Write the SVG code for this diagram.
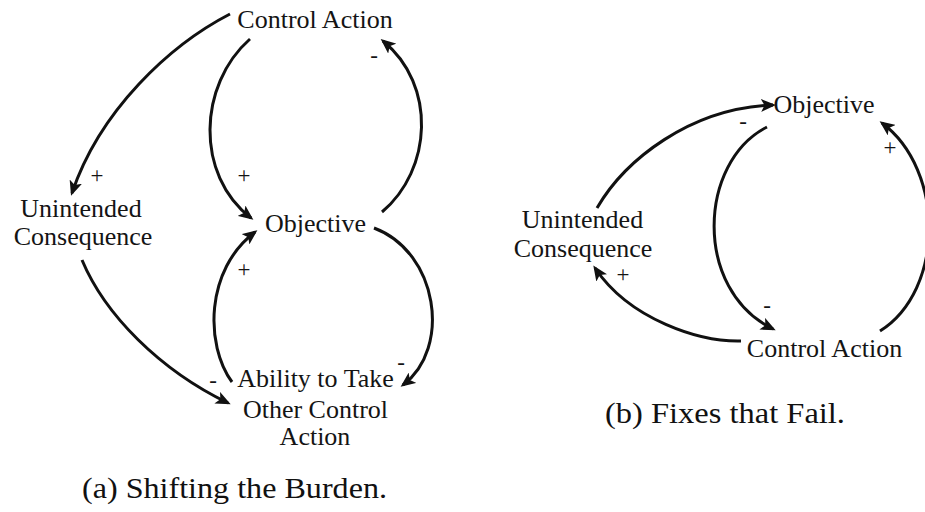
<svg xmlns="http://www.w3.org/2000/svg" width="925" height="512" viewBox="0 0 925 512">
  <style>
    text { font-family: 'Liberation Serif', 'Times New Roman', serif; }
    .node { font-size: 26px; fill: #141414; text-anchor: middle; }
    .sign { font-size: 23px; fill: #141414; text-anchor: middle; }
    .caption { font-size: 29px; fill: #111; }
    .link { fill: none; stroke: #111; stroke-width: 3; marker-end: url(#arrow); }
  </style>
  <defs>
    <marker id="arrow" markerUnits="userSpaceOnUse" markerWidth="15" markerHeight="13" viewBox="0 0 15 13" refX="12" refY="6.5" orient="auto">
      <path d="M0,0 L15,6.5 L0,13 L3.5,6.5 z" fill="#111"/>
    </marker>
  </defs>
  <rect width="925" height="512" fill="#fff"/>

  <!-- (a) Shifting the Burden -->
  <g id="connectors-a">
    <path class="link" d="M230,14 C170,45 100,110 72,193"/>
    <path class="link" d="M250,39 C198,85 195,175 251,218"/>
    <path class="link" d="M382,212 C432,170 437,85 383,41"/>
    <path class="link" d="M374,228 C438,252 452,348 403,385"/>
    <path class="link" d="M232,382 C205,345 205,270 255,232"/>
    <path class="link" d="M82,260 C105,315 160,370 228,403"/>
  </g>
  <g id="signs-a">
    <text class="sign" x="97" y="183">+</text>
    <text class="sign" x="244" y="183">+</text>
    <text class="sign" x="374" y="63">-</text>
    <text class="sign" x="244" y="277">+</text>
    <text class="sign" x="213" y="388">-</text>
    <text class="sign" x="401" y="370">-</text>
  </g>
  <g id="a-control-action">
    <text class="node" x="315" y="28">Control Action</text>
  </g>
  <g id="a-unintended-consequence">
    <text class="node" x="81" y="217">Unintended</text>
    <text class="node" x="83" y="245">Consequence</text>
  </g>
  <g id="a-objective">
    <text class="node" x="315.5" y="232">Objective</text>
  </g>
  <g id="a-ability">
    <text class="node" x="315.5" y="387">Ability to Take</text>
    <text class="node" x="315.5" y="418">Other Control</text>
    <text class="node" x="315" y="445">Action</text>
  </g>
  <text class="caption" x="82" y="498" textLength="305" lengthAdjust="spacingAndGlyphs">(a) Shifting the Burden.</text>

  <!-- (b) Fixes that Fail -->
  <g id="connectors-b">
    <path class="link" d="M597,208 C625,160 690,108 773,105"/>
    <path class="link" d="M767,127 C698,162 693,290 773,329"/>
    <path class="link" d="M741,341 C700,342 630,320 595,268"/>
    <path class="link" d="M880,331 C945,290 945,170 882,123"/>
  </g>
  <g id="signs-b">
    <text class="sign" x="743" y="129">-</text>
    <text class="sign" x="890" y="155">+</text>
    <text class="sign" x="623" y="282">+</text>
    <text class="sign" x="767" y="313">-</text>
  </g>
  <g id="b-objective">
    <text class="node" x="824" y="113">Objective</text>
  </g>
  <g id="b-unintended-consequence">
    <text class="node" x="582.5" y="228">Unintended</text>
    <text class="node" x="583" y="257">Consequence</text>
  </g>
  <g id="b-control-action">
    <text class="node" x="824.5" y="357">Control Action</text>
  </g>
  <text class="caption" x="605" y="423" textLength="240" lengthAdjust="spacingAndGlyphs">(b) Fixes that Fail.</text>
</svg>
